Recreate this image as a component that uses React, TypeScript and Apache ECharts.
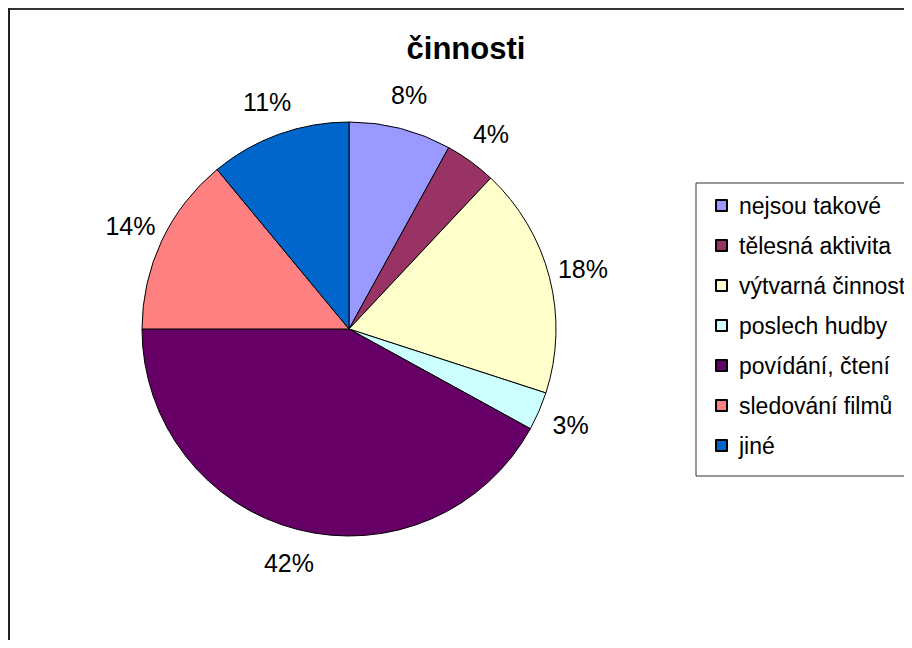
import React, { useEffect, useRef } from "react";
import * as echarts from "echarts";

const categories = [
  "nejsou takové",
  "tělesná aktivita",
  "výtvarná činnost",
  "poslech hudby",
  "povídání, čtení",
  "sledování filmů",
  "jiné",
];
const percentValues = [8, 4, 18, 3, 42, 14, 11];
const sliceColors = ["#9999FF", "#993366", "#FFFFCC", "#CCFFFF", "#660066", "#FF8080", "#0066CC"];
const chartTitle = "činnosti";

const FONT = '"Liberation Sans", Arial, Helvetica, sans-serif';

export default function App() {
  const ref = useRef<HTMLDivElement>(null);
  useEffect(() => {
    if (!ref.current) return;
    const chart = echarts.init(ref.current, null, { renderer: "svg" });
    const center = [341, 321];
    const data = categories.map((name, i) => ({
      name,
      value: percentValues[i],
      itemStyle: { color: sliceColors[i] },
    }));
    chart.setOption({
      animation: false,
      backgroundColor: "#fff",
      textStyle: { fontFamily: FONT },
      legend: {
        orient: "vertical",
        left: 688,
        top: 175,
        itemWidth: 11,
        itemHeight: 11,
        itemGap: 17,
        padding: [11, 40, 19, 19],
        borderColor: "#333",
        borderWidth: 1,
        icon: "rect",
        selectedMode: false,
        data: categories,
        textStyle: {
          fontSize: 23,
          lineHeight: 23,
          color: "#000",
          fontFamily: FONT,
          padding: [0, 0, 0, 7],
        },
      },
      graphic: [
        {
          type: "text",
          style: {
            text: chartTitle,
            x: 458,
            y: 25,
            textAlign: "center",
            textVerticalAlign: "top",
            font: `bold 31px ${FONT}`,
            fill: "#000",
          },
        },
        {
          type: "line",
          shape: { x1: 0, y1: 1, x2: 904, y2: 1 },
          style: { stroke: "#333", lineWidth: 2 },
        },
        {
          type: "line",
          shape: { x1: 1, y1: 0, x2: 1, y2: 640 },
          style: { stroke: "#222", lineWidth: 2 },
        },
      ],
      series: [
        {
          type: "pie",
          center,
          radius: [0, 207],
          startAngle: 90,
          clockwise: true,
          silent: true,
          avoidLabelOverlap: false,
          data,
          itemStyle: { borderColor: "#000", borderWidth: 1 },
          label: { show: false },
          labelLine: { show: false },
          emphasis: { disabled: true },
        },
        {
          type: "pie",
          center,
          radius: [197, 280],
          startAngle: 90,
          clockwise: true,
          silent: true,
          avoidLabelOverlap: false,
          legendHoverLink: false,
          data: categories.map((name, i) => ({ name, value: percentValues[i] })),
          itemStyle: { color: "rgba(0,0,0,0)", borderWidth: 0 },
          label: {
            show: true,
            position: "inside",
            formatter: "{d}%",
            fontSize: 25,
            color: "#000",
            fontFamily: FONT,
          },
          labelLine: { show: false },
          emphasis: { disabled: true },
        },
      ],
    });
    return () => chart.dispose();
  }, []);
  return <div ref={ref} style={{ width: 904, height: 632 }} />;
}
